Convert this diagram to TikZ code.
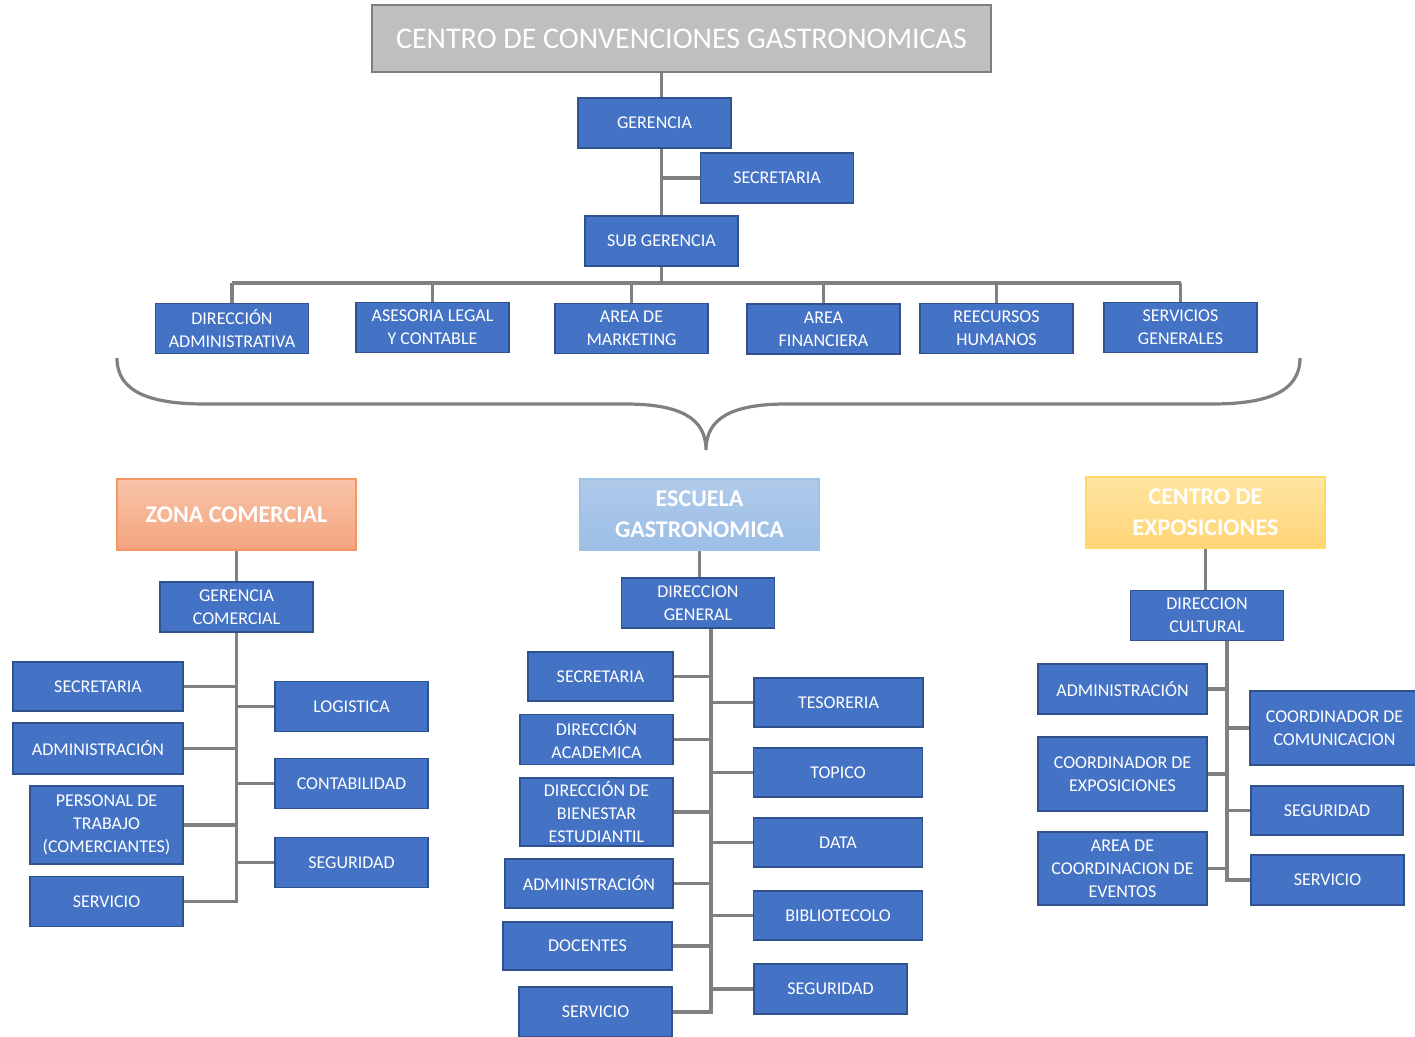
\documentclass[tikz,border=0pt]{standalone}
\usepackage{fontspec}
\setmainfont{Carlito}
\usepackage{xcolor}
\usepackage{tikz}
\usetikzlibrary{positioning,calc,backgrounds}
\definecolor{unitblue}{RGB}{68,114,196}
\definecolor{unitedge}{RGB}{47,82,143}
\definecolor{linkgray}{RGB}{128,128,128}
\definecolor{titlegray}{RGB}{191,191,191}
\definecolor{titleedge}{RGB}{127,127,127}
\definecolor{zonatop}{RGB}{248,196,168}
\definecolor{zonabot}{RGB}{244,164,126}
\definecolor{zonaedge}{RGB}{246,150,100}
\definecolor{escutop}{RGB}{176,202,234}
\definecolor{escubot}{RGB}{156,190,230}
\definecolor{escuedge}{RGB}{157,195,230}
\definecolor{expotop}{RGB}{255,230,160}
\definecolor{expobot}{RGB}{255,212,120}
\definecolor{expoedge}{RGB}{255,217,102}

\tikzset{
  unit/.style={draw=unitedge, fill=unitblue, text=white, line width=0.7pt,
    inner sep=0pt, align=center, font=\fontsize{9}{11.5}\selectfont,
    minimum width=76.5pt, minimum height=25pt},
  head/.style={text=white, line width=0.7pt, inner sep=0pt, align=center,
    font=\bfseries\fontsize{12}{15.5}\selectfont,
    minimum width=119.5pt, minimum height=35.5pt},
  link/.style={draw=linkgray, line width=1.6pt}
}

\begin{document}
\begin{tikzpicture}[x=0.5pt,y=-0.5pt]
    \useasboundingbox (0,0) rectangle (1415,1037);

    % top levels
    \node[draw=titleedge, fill=titlegray, text=white, line width=0.7pt, inner sep=0pt,
      minimum width=309.5pt, minimum height=33.5pt, font=\fontsize{15}{18}\selectfont]
      (top) at (681.5,38.5) {CENTRO DE CONVENCIONES GASTRONOMICAS};
    \node[unit] (ger) at (654.5,123) {GERENCIA};
    \node[unit] (sec) at (777,178) {SECRETARIA};
    \node[unit] (sub) at (661.5,241) {SUB GERENCIA};
    \coordinate (hub) at (661.5,283);

    \node[unit] (dadm) at (232,328.5) {DIRECCIÓN\\ADMINISTRATIVA};
    \node[unit] (ase) at (432.5,327.5) {ASESORIA LEGAL\\Y CONTABLE};
    \node[unit] (mkt) at (631.5,328.5) {AREA DE\\MARKETING};
    \node[unit] (fin) at (823.5,329) {AREA\\FINANCIERA};
    \node[unit] (rrhh) at (996.5,328.5) {REECURSOS\\HUMANOS};
    \node[unit] (sgen) at (1180.5,327.5) {SERVICIOS\\GENERALES};

    % brace
    \draw[link] (117,358) .. controls (117,392) and (150,404) .. (205,404) -- (625,404)
      .. controls (680,404) and (706,418) .. (706,450)
      .. controls (706,418) and (732,404) .. (787,404) -- (1212,404)
      .. controls (1267,404) and (1300,392) .. (1300,358);

    % zona comercial
    \node[head, draw=zonaedge, top color=zonatop, bottom color=zonabot]
      (zona) at (236.5,514.5) {ZONA COMERCIAL};
    \node[unit] (gcom) at (236.5,607) {GERENCIA\\COMERCIAL};
    \node[unit, minimum width=85pt, minimum height=24.5pt] (zsec) at (98,686.5) {SECRETARIA};
    \node[unit, minimum width=85pt, minimum height=25.5pt] (zadm) at (98,748.5) {ADMINISTRACIÓN};
    \node[unit, minimum height=39pt] (zper) at (106.5,825) {PERSONAL DE\\TRABAJO\\(COMERCIANTES)};
    \node[unit] (zser) at (106.5,901.5) {SERVICIO};
    \node[unit] (zlog) at (351.5,706.5) {LOGISTICA};
    \node[unit] (zcon) at (351.5,783.5) {CONTABILIDAD};
    \node[unit] (zseg) at (351.5,862.5) {SEGURIDAD};

    % escuela gastronomica
    \node[head, draw=escuedge, top color=escutop, bottom color=escubot]
      (escu) at (699.5,514.5) {ESCUELA\\GASTRONOMICA};
    \node[unit] (dgen) at (698,603) {DIRECCION\\GENERAL};
    \coordinate (etr) at ($(dgen.south)+(13,0)$);
    \node[unit, minimum width=72.5pt, minimum height=24.5pt] (esec) at (600.5,676.5) {SECRETARIA};
    \node[unit] (eaca) at (596.5,739.5) {DIRECCIÓN\\ACADEMICA};
    \node[unit, minimum height=34pt] (ebie) at (596.5,812) {DIRECCIÓN DE\\BIENESTAR\\ESTUDIANTIL};
    \node[unit, minimum width=84pt, minimum height=24.5pt] (eadm) at (589,883.5) {ADMINISTRACIÓN};
    \node[unit, minimum width=84.5pt, minimum height=24pt] (edoc) at (587.5,946) {DOCENTES};
    \node[unit] (eser) at (595.5,1012) {SERVICIO};
    \node[unit, minimum width=84.5pt, minimum height=24.5pt] (etes) at (838.5,702.5) {TESORERIA};
    \node[unit, minimum width=84.5pt, minimum height=24.5pt] (etop) at (838,772.5) {TOPICO};
    \node[unit, minimum width=84.5pt, minimum height=24.5pt] (edat) at (838,842.5) {DATA};
    \node[unit, minimum width=84.5pt, minimum height=24.5pt] (ebib) at (838,915.5) {BIBLIOTECOLO};
    \node[unit] (eseg) at (830.5,989) {SEGURIDAD};

    % centro de exposiciones
    \node[head, draw=expoedge, top color=expotop, bottom color=expobot]
      (expo) at (1205.5,512.5) {CENTRO DE\\EXPOSICIONES};
    \node[unit] (dcul) at (1207,615.5) {DIRECCION\\CULTURAL};
    \coordinate (ctr) at ($(dcul.south)+(20,0)$);
    \node[unit, minimum width=84.5pt] (cadm) at (1122.5,689) {ADMINISTRACIÓN};
    \node[unit, minimum width=84.5pt, minimum height=37pt] (cexp) at (1122.5,774) {COORDINADOR DE\\EXPOSICIONES};
    \node[unit, minimum width=84.5pt, minimum height=36.5pt] (ceve) at (1122.5,868.5) {AREA DE\\COORDINACION DE\\EVENTOS};
    \node[unit, minimum width=84.5pt, minimum height=37pt] (ccom) at (1334.5,728) {COORDINADOR DE\\COMUNICACION};
    \node[unit, minimum width=76pt, minimum height=24.5pt] (cseg) at (1327,810.5) {SEGURIDAD};
    \node[unit] (cser) at (1327.5,880) {SERVICIO};

    % connectors
    \begin{scope}[on background layer]
      \draw[link] (sub.north |- top.south) -- (hub);
      \draw[link] (sec.west) -- (sec.west -| sub.north);
      \draw[link] (dadm.north |- hub) -- (sgen.north |- hub);
      \foreach \n in {dadm,ase,mkt,fin,rrhh,sgen}
        \draw[link] (\n.north) -- (\n.north |- hub);

      \draw[link] (zona.south) -- (gcom.north);
      \foreach \n in {zsec,zadm,zper,zser}
        \draw[link] (gcom.south) |- (\n.east);
      \foreach \n in {zlog,zcon,zseg}
        \draw[link] (gcom.south) |- (\n.west);

      \draw[link] (escu.south) -- (escu.south |- dgen.north);
      \foreach \n in {esec,eaca,ebie,eadm,edoc,eser}
        \draw[link] (etr) |- (\n.east);
      \foreach \n in {etes,etop,edat,ebib,eseg}
        \draw[link] (etr) |- (\n.west);

      \draw[link] (expo.south) -- (expo.south |- dcul.north);
      \foreach \n in {cadm,cexp,ceve}
        \draw[link] (ctr) |- (\n.east);
      \foreach \n in {ccom,cseg,cser}
        \draw[link] (ctr) |- (\n.west);
    \end{scope}
\end{tikzpicture}
\end{document}
